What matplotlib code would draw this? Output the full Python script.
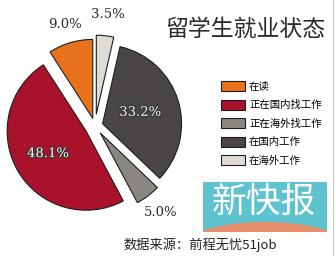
import numpy as np
import matplotlib
matplotlib.use("Agg")
from matplotlib import pyplot as plt
from matplotlib.patches import Rectangle, Ellipse
import matplotlib.patheffects as pe

plt.rcParams['font.family'] = ['Noto Sans CJK SC', 'DejaVu Sans']

# data
categories = ["在读", "正在国内找工作", "正在海外找工作", "在国内工作", "在海外工作"]
shares = [9.0, 48.1, 5.0, 33.2, 3.5]
colors = ["#e8731c", "#a8122a", "#8a8680", "#4a4646", "#dedbd3"]
explode = [0.10, 0.13, 0.11, 0.10, 0.15]   # fraction of radius
label_dist = [1.24, 0.56, 1.27, 0.50, 1.27]
label_inside = [False, True, False, True, False]

fig = plt.figure(figsize=(3.36, 2.56), dpi=100)
ax = fig.add_axes([0, 0, 1, 1])

R = 79
cx, cy = 95, -126
# pie's explode is in data units here, so scale by radius
wedges, _ = ax.pie(shares, colors=colors, explode=[e * R for e in explode], startangle=90,
                   center=(cx, cy), radius=R, normalize=True,
                   wedgeprops=dict(edgecolor="#1e1e1e", linewidth=0.8))

for w, v, d, inside in zip(wedges, shares, label_dist, label_inside):
    mid = np.deg2rad((w.theta1 + w.theta2) / 2)
    wx, wy = w.center
    x = wx + d * R * np.cos(mid)
    y = wy + d * R * np.sin(mid)
    if inside:
        ax.text(x, y, f"{v:.1f}%", ha="center", va="center", fontsize=9.5,
                family="DejaVu Serif", color="white",
                path_effects=[pe.withStroke(linewidth=1.5, foreground="#333333")])
    else:
        ax.text(x, y, f"{v:.1f}%", ha="center", va="center", fontsize=9.5,
                family="DejaVu Serif", color="#2a2a2a")

ax.set_xlim(0, 336)
ax.set_ylim(-256, 0)
ax.set_aspect("equal")
ax.axis("off")

# title
ax.text(245, -29, "留学生就业状态", ha="center", va="center", fontsize=16.5, color="#2b2b2b")

# legend
fig.legend(wedges, categories, loc="upper left", bbox_to_anchor=(221 / 336, 1 - 81 / 256),
           frameon=False, fontsize=7.5, handlelength=2.3, handleheight=1.15,
           handletextpad=0.4, labelspacing=0.75, borderpad=0, borderaxespad=0)

# logo
box = Rectangle((203, -232), 124, 50, facecolor="#5ec2cf", edgecolor="none")
ax.add_patch(box)
arc = Ellipse((265, -242), 150, 40, facecolor="#e8906c", edgecolor="none")
ax.add_patch(arc)
arc.set_clip_path(box)
ax.text(264, -203, "新快报", ha="center", va="center", fontsize=25, color="white")

# source
ax.text(123, -245, "数据来源：前程无忧51job", ha="left", va="center", fontsize=9.5, color="#222222")

ax.plot([333, 333], [0, -256], color="#cccccc", linewidth=0.8)

fig.savefig("out.png", dpi=100)
